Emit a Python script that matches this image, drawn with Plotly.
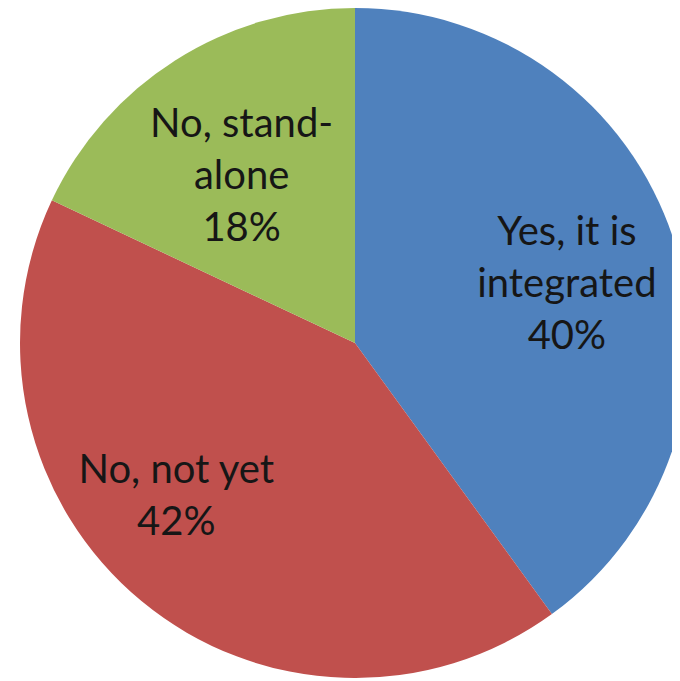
import plotly.graph_objects as go

labels = ["Yes, it is<br>integrated", "No, not yet", "No, stand-<br>alone"]
values = [40, 42, 18]
colors = ["#4F81BD", "#C0504D", "#9BBB59"]

# styling of the transparent label rings (one per slice): hole and domain
label_holes = [0.28, 0.0, 0.1]
label_domains = [
    dict(x=[0.03, 1], y=[0, 0.988]),
    dict(x=[0.0086, 0.7003], y=[0.0567, 0.7731]),
    dict(x=[0, 1], y=[0, 0.97]),
]

fig = go.Figure()
# Filled pie (no text)
fig.add_trace(
    go.Pie(
        labels=labels,
        values=values,
        sort=False,
        direction="clockwise",
        rotation=0,
        marker=dict(colors=colors, line=dict(width=0)),
        textinfo="none",
        hoverinfo="label+percent",
        showlegend=False,
    )
)
# Transparent rings carrying one label each
for i in range(len(labels)):
    tmpl = ["%{label}<br>%{percent:.0%}" if j == i else " " for j in range(len(labels))]
    fig.add_trace(
        go.Pie(
            labels=labels,
            values=values,
            sort=False,
            direction="clockwise",
            rotation=0,
            hole=label_holes[i],
            domain=label_domains[i],
            marker=dict(colors=["rgba(0,0,0,0)"] * len(labels), line=dict(width=0)),
            texttemplate=tmpl,
            textposition="inside",
            insidetextorientation="horizontal",
            textfont=dict(family="Lato", size=40, color="#161616"),
            hoverinfo="skip",
            showlegend=False,
        )
    )
fig.update_layout(
    width=694,
    height=670,
    margin=dict(l=0, r=0, t=0, b=0),
    paper_bgcolor="white",
    plot_bgcolor="white",
    uniformtext=dict(minsize=40, mode="show"),
)
fig.write_html("out.html")
